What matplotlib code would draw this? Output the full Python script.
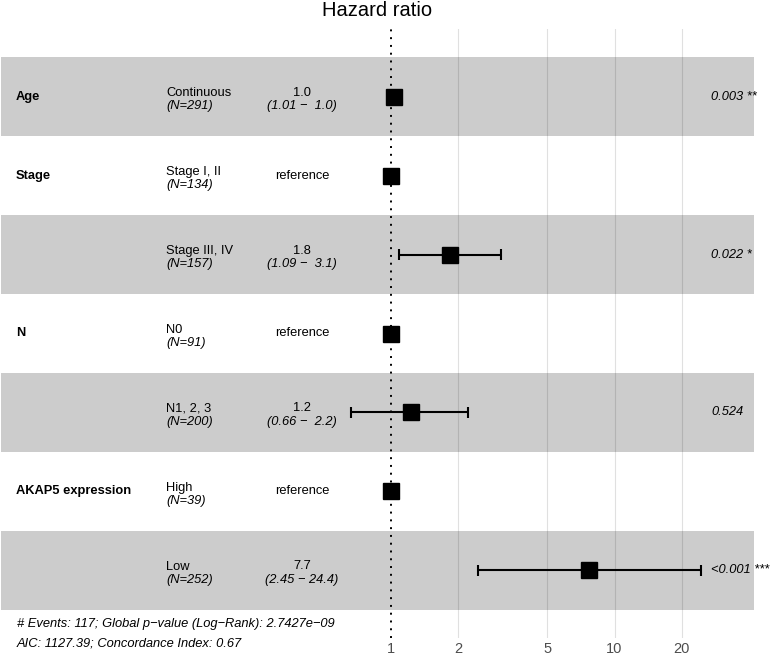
import numpy as np
import matplotlib
matplotlib.use("Agg")
import matplotlib.pyplot as plt
import matplotlib.transforms as mtransforms

plt.rcParams['font.family'] = ['Liberation Sans', 'DejaVu Sans']

# ---------------- data ----------------
variables = ["Age", "Stage", "", "N", "", "AKAP5 expression", ""]
levels = ["Continuous", "Stage I, II", "Stage III, IV", "N0", "N1, 2, 3", "High", "Low"]
n_obs = [291, 134, 157, 91, 200, 39, 252]
hr = [1.03, 1.0, 1.83, 1.0, 1.23, 1.0, 7.7]
ci_low = [1.01, np.nan, 1.09, np.nan, 0.66, np.nan, 2.45]
ci_high = [1.04, np.nan, 3.1, np.nan, 2.2, np.nan, 24.4]
hr_labels = ["1.0", "reference", "1.8", "reference", "1.2", "reference", "7.7"]
ci_labels = ["(1.01 \u2212  1.0)", "", "(1.09 \u2212  3.1)", "", "(0.66 \u2212  2.2)", "", "(2.45 \u2212 24.4)"]
p_labels = ["0.003 **", "", "0.022 *", "", "0.524", "", "<0.001 ***"]
x_breaks = [1, 2, 5, 10, 20]
x_break_labels = ["1", "2", "5", "10", "20"]
footnote = ["# Events: 117; Global p\u2212value (Log\u2212Rank): 2.7427e\u221209",
            "AIC: 1127.39; Concordance Index: 0.67"]

# ---------------- layout ----------------
W, H = 776, 660
fig = plt.figure(figsize=(W / 100, H / 100), dpi=100)
top_px, bot_px = 29.4, 637.6
ax = fig.add_axes([0, (H - bot_px) / H, 1, (bot_px - top_px) / H])
ax.set_xscale('log')
px1, decade = 391.0, 223.5
ax.set_xlim(10 ** (-px1 / decade), 10 ** ((W - px1) / decade))
ax.set_ylim(0.15, 7.85)
row_px = (bot_px - top_px) / 7.7  # pixels per row unit

def dy(px):
    return px / row_px

nrow = len(levels)
ypos = np.arange(nrow, 0, -1)  # top row = nrow

# grid lines
for b in x_breaks[1:]:
    ax.axvline(b, color='#E0E0E0', lw=0.8, zorder=0)

# bands
band_lo = 10 ** ((1 - px1) / decade)
band_hi = 10 ** ((754 - px1) / decade)
for i, y in enumerate(ypos):
    if i % 2 == 0:
        ax.fill_between([band_lo, band_hi], y - 0.5, y + 0.5, color='black', alpha=0.2,
                        linewidth=0, zorder=1)

# reference line
ax.axvline(1, color='black', lw=1.4, linestyle=(0, (1, 3.0)), zorder=2)

# error bars and points
for y, h, lo, hi in zip(ypos, hr, ci_low, ci_high):
    if not np.isnan(lo):
        ax.plot([lo, hi], [y, y], color='black', lw=1.5, zorder=3, solid_capstyle='butt')
        for v in (lo, hi):
            ax.plot([v, v], [y - 0.075, y + 0.075], color='black', lw=1.5, zorder=3,
                    solid_capstyle='butt')
    ax.plot([h], [y], marker='s', color='black', markersize=11, zorder=4, linestyle='none')

# text columns
tr = mtransforms.blended_transform_factory(ax.transAxes, ax.transData)
fs = 9.3
col_var, col_lvl, col_hr, col_p = 16 / W, 166 / W, 302 / W, 711 / W
for y, v, l, n, hl, cl, pl in zip(ypos, variables, levels, n_obs, hr_labels, ci_labels, p_labels):
    if v:
        ax.text(col_var, y, v, transform=tr, fontsize=fs, fontweight='bold',
                ha='left', va='center')
    ax.text(col_lvl, y + dy(0.5), l, transform=tr, fontsize=fs, ha='left', va='baseline')
    ax.text(col_lvl, y - dy(12.5), f"(N={n})", transform=tr, fontsize=fs, style='italic',
            ha='left', va='baseline')
    if hl == "reference":
        ax.text(col_hr, y, hl, transform=tr, fontsize=fs, ha='center', va='center')
    else:
        ax.text(col_hr, y + dy(1), hl, transform=tr, fontsize=fs, ha='center', va='baseline')
        ax.text(col_hr, y - dy(12.5), cl, transform=tr, fontsize=fs, style='italic',
                ha='center', va='baseline')
    if pl:
        ax.text(col_p, y, pl, transform=tr, fontsize=fs, style='italic', ha='left', va='center')

# footnote
ax.text(17 / W, 0.5 - dy(16.7), footnote[0], transform=tr, fontsize=fs, style='italic',
        ha='left', va='baseline')
ax.text(17 / W, 0.5 - dy(36.7), footnote[1], transform=tr, fontsize=fs, style='italic',
        ha='left', va='baseline')

# axis styling
for s in ax.spines.values():
    s.set_visible(False)
ax.set_yticks([])
ax.set_xticks(x_breaks)
ax.set_xticklabels(x_break_labels)
ax.xaxis.set_minor_locator(matplotlib.ticker.NullLocator())
ax.tick_params(axis='x', length=0, pad=3, labelsize=10.5, labelcolor='#4D4D4D')
ax.set_facecolor('white')

fig.text(377 / W, 1 - 16 / H, "Hazard ratio", fontsize=14.5, ha='center', va='baseline')

fig.savefig("out.png", dpi=100)
